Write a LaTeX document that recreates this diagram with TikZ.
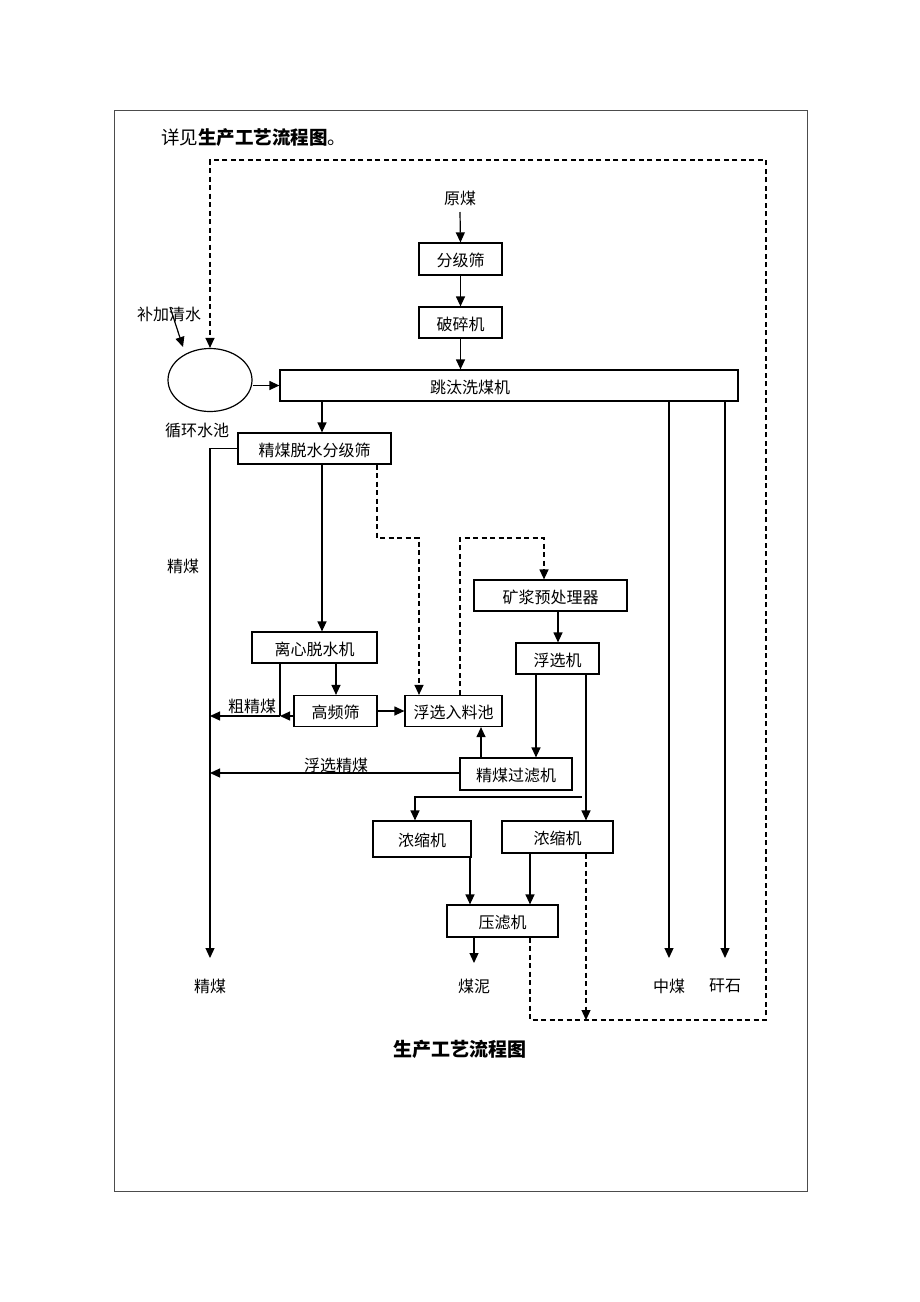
\documentclass[tikz,border=0pt]{standalone}
\usepackage{fontspec}
\setmainfont{Noto Sans CJK SC}
\usetikzlibrary{arrows.meta,shapes.geometric}
\begin{document}
\begin{tikzpicture}[x=1pt,y=-1pt,
  bx/.style={draw, line width=1.2pt, inner sep=0pt, text height=15pt, text depth=0pt, font=\fontsize{16}{19}\selectfont},
  lbl/.style={inner sep=0pt, font=\fontsize{16}{19}\selectfont},
  ln/.style={line width=1.2pt},
  arr/.style={line width=1.2pt, -{Triangle[length=10pt,width=9pt]}},
  dsh/.style={line width=1.2pt, dash pattern=on 5pt off 3.5pt},
  darr/.style={dsh, -{Triangle[length=10pt,width=9pt]}}]
\useasboundingbox (0,0) rectangle (920,1302);
\draw[line width=1pt, color=black!70] (114,110) rectangle (807,1191);

% column / row helpers
\foreach \n/\v in {c210/210,c280/280,c322/322,c336/336,c377/377,c415/415,c419/419,c460/460,c470/470,c474/474,c481/481,c530/530,c536/536,c544/544,c558/558,c582/582,c586/586,c669/669,c725/725,c766/766}
  \coordinate (\n) at (\v,0);
\foreach \n/\v in {top/160,y212/212,y538/538,y716/716,y773/773,y797/797,y958/958,y963/963,bot/1020}
  \coordinate (\n) at (0,\v);

\node[anchor=west, inner sep=0pt, font=\fontsize{18.5}{21}\selectfont] (intro) at (161,138) {详见\textbf{生产工艺流程图}。};

\node[lbl] (ym) at (460,198) {原煤};
\node[bx, minimum width=83pt, minimum height=32pt] (fjs) at (460.5,259) {分级筛};
\node[bx, minimum width=83pt, minimum height=31pt] (psj) at (460.5,322.5) {破碎机};
\node[bx, minimum width=458pt, minimum height=31pt] (tt) at (509,385.5) {};
\node[lbl] (ttl) at (470,387) {跳汰洗煤机};
\node[draw, ellipse, line width=1.2pt, inner sep=0pt, minimum width=84pt, minimum height=63pt] (pool) at (210,380) {};
\node[lbl] (bjs) at (169,314) {补加清水};
\node[lbl] (xhsc) at (197,430) {循环水池};
\coordinate (bjsA) at (170,307);
\coordinate (bjsB) at (183,347);

\node[bx, minimum width=153pt, minimum height=31pt] (jmts) at (314.5,448.5) {精煤脱水分级筛};
\node[bx, minimum width=125pt, minimum height=31pt] (lx) at (314.5,647.5) {离心脱水机};
\node[bx, minimum width=83pt, minimum height=31pt] (gps) at (335.5,711) {高频筛};
\node[bx, minimum width=97pt, minimum height=31pt] (fxrl) at (453.5,711) {浮选入料池};
\node[bx, minimum width=153pt, minimum height=31pt] (kj) at (550.5,595.5) {矿浆预处理器};
\node[bx, minimum width=83pt, minimum height=31pt] (fxj) at (557.5,658.5) {浮选机};
\node[bx, minimum width=112pt, minimum height=32pt] (glj) at (516,774) {精煤过滤机};
\node[bx, minimum width=98pt, minimum height=36pt] (nsL) at (422,839) {浓缩机};
\node[bx, minimum width=111pt, minimum height=32pt] (nsR) at (557.5,837) {浓缩机};
\node[bx, minimum width=111pt, minimum height=32pt] (ylj) at (502.5,921) {压滤机};

\node[lbl] (jm1) at (183,566) {精煤};
\node[lbl] (cjm) at (252,706) {粗精煤};
\node[lbl] (fxjm) at (336,765) {浮选精煤};
\node[lbl] (jm2) at (210,986) {精煤};
\node[lbl] (mn) at (474,986) {煤泥};
\node[lbl] (zm) at (669,986) {中煤};
\node[lbl] (gs) at (725,986) {矸石};
\node[inner sep=0pt, font=\fontsize{19}{21}\selectfont\bfseries] (cap) at (460,1049) {生产工艺流程图};

% main flow
\draw[arr] (ym.south |- y212) -- (fjs.north);
\draw[arr] (fjs.south) -- (psj.north);
\draw[arr] (psj.south) -- (tt.north -| psj.south);
\draw[arr] (pool.east |- tt.west) -- (tt.west);
\draw[arr] (bjsA) -- (bjsB);
\draw[arr] (tt.south -| c322) -- (jmts.north -| c322);
\draw[arr] (jmts.west) -- (jmts.west -| c210) -- (c210 |- y958);
\draw[arr] (jmts.south -| c322) -- (lx.north -| c322);
\draw[arr] (lx.south -| c336) -- (gps.north -| c336);
\draw[ln] (lx.south -| c280) -- (c280 |- y716);
\draw[arr] (gps.west |- y716) -- (c280 |- y716);
\draw[arr] (c280 |- y716) -- (c210 |- y716);
\draw[arr] (gps.east) -- (fxrl.west);
\draw[arr] (kj.south -| c558) -- (fxj.north -| c558);
\draw[arr] (fxj.south -| c536) -- (glj.north -| c536);
\draw[arr] (glj.north -| c481) -- (fxrl.south -| c481);
\draw[arr] (glj.west |- y773) -- (c210 |- y773);
\draw[arr] (fxj.south -| c586) -- (nsR.north -| c586);
\draw[arr] (c582 |- y797) -- (c415 |- y797) -- (nsL.north -| c415);
\draw[arr] (nsL.south -| c470) -- (ylj.north -| c470);
\draw[arr] (nsR.south -| c530) -- (ylj.north -| c530);
\draw[arr] (ylj.south -| c474) -- (c474 |- y963);
\draw[arr] (tt.south -| c669) -- (c669 |- y958);
\draw[arr] (tt.south -| c725) -- (c725 |- y958);

% dashed flows
\draw[darr] (jmts.south -| c377) -- (c377 |- y538) -- (c419 |- y538) -- (fxrl.north -| c419);
\draw[darr] (fxrl.north -| c460) -- (c460 |- y538) -- (c544 |- y538) -- (kj.north -| c544);
\draw[darr] (ylj.south -| c530) -- (c530 |- bot) -- (c766 |- bot) -- (c766 |- top) -- (c210 |- top) -- (pool.north);
\draw[darr] (nsR.south -| c586) -- (c586 |- bot);
\end{tikzpicture}
\end{document}
